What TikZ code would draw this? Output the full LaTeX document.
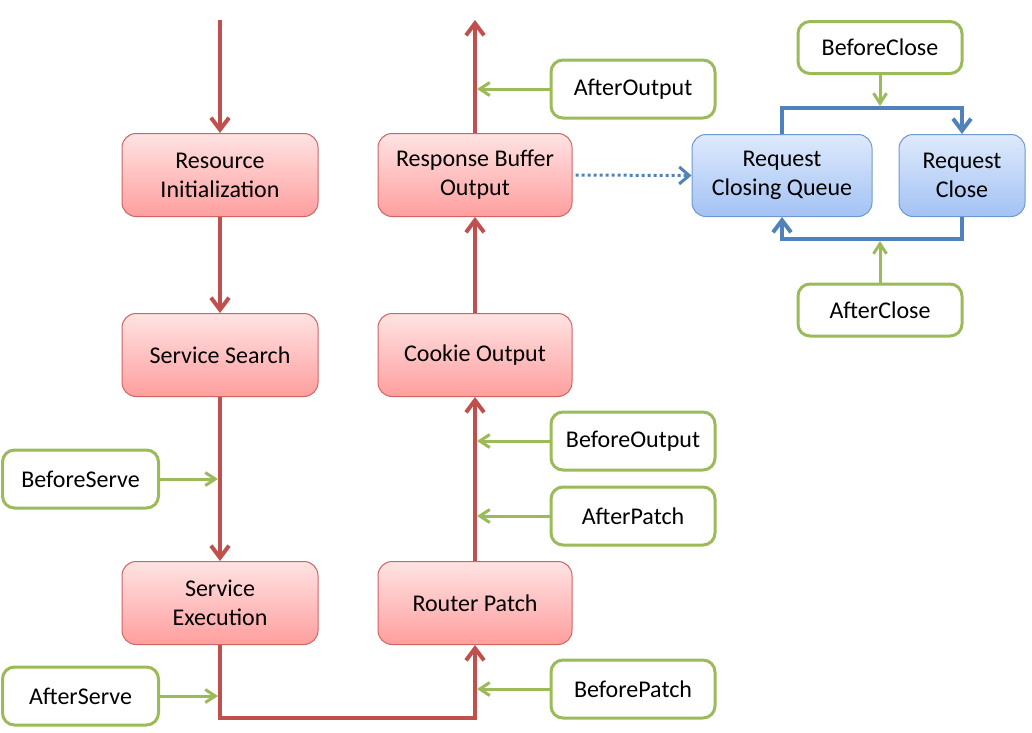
\documentclass[tikz,border=0pt]{standalone}
\usepackage{fontspec}
\setmainfont{Carlito}
\usetikzlibrary{arrows.meta}
\definecolor{redline}{HTML}{C0504D}
\definecolor{redtop}{HTML}{FFE3E3}
\definecolor{redbot}{HTML}{FF9E9E}
\definecolor{redborder}{HTML}{CF6462}
\definecolor{blueline}{HTML}{4F81BD}
\definecolor{bluetop}{HTML}{DEEAFC}
\definecolor{bluebot}{HTML}{A3C2F4}
\definecolor{blueborder}{HTML}{6E98CE}
\definecolor{greenline}{HTML}{9BBB59}
\begin{document}
\begin{tikzpicture}[x=1pt,y=-1pt,
  every node/.style={font=\fontsize{24}{29}\selectfont, align=center, inner sep=0pt, text=black},
  redbox/.style={draw=redborder, line width=1pt, rounded corners=14pt, top color=redtop, bottom color=redbot, minimum width=196pt, minimum height=83pt},
  bluebox/.style={draw=blueborder, line width=1pt, rounded corners=14pt, top color=bluetop, bottom color=bluebot, minimum height=82pt},
  greenbox/.style={draw=greenline, line width=3pt, rounded corners=12pt, fill=white, minimum width=164pt, minimum height=58pt},
  redarrow/.style={draw=redline, line width=4pt, -{Straight Barb[length=12pt,width=18pt]}},
  bluearrow/.style={draw=blueline, line width=4pt, -{Straight Barb[length=12pt,width=18pt]}},
  greenarrow/.style={draw=greenline, line width=3pt, shorten >=2pt, -{Straight Barb[length=10pt,width=13pt]}},
  dotarrow/.style={draw=blueline, line width=3pt, dash pattern=on 3pt off 3pt, shorten <=3pt, -{Straight Barb[length=10pt,width=17pt]}}
]
\useasboundingbox (0,0) rectangle (1032,732);

% red boxes
\node[redbox] (ri) at (220,175) {Resource\\Initialization};
\node[redbox] (ss) at (220,355) {Service Search};
\node[redbox] (se) at (220,603) {Service\\Execution};
\node[redbox, minimum width=194pt] (rb) at (475,175) {Response Buffer\\Output};
\node[redbox, minimum width=194pt] (co) at (475,355) {Cookie Output};
\node[redbox, minimum width=194pt] (rp) at (475,603) {Router Patch};

% blue boxes
\node[bluebox, minimum width=180pt] (rcq) at (782,175.5) {Request\\Closing Queue};
\node[bluebox, minimum width=126pt] (rc) at (962,175.5) {Request\\Close};

% green boxes
\node[greenbox] (ao) at (633,89) {AfterOutput};
\node[greenbox, minimum height=52pt] (bc) at (880,47.5) {BeforeClose};
\node[greenbox, minimum height=52pt] (ac) at (880,310) {AfterClose};
\node[greenbox, minimum width=156pt] (bs) at (80.5,479) {BeforeServe};
\node[greenbox] (bo) at (633,441) {BeforeOutput};
\node[greenbox] (ap) at (633,516) {AfterPatch};
\node[greenbox, minimum width=156pt] (as) at (80.5,696) {AfterServe};
\node[greenbox] (bp) at (633,689) {BeforePatch};

% coordinates
\coordinate (topL) at (220,20);
\coordinate (topR) at (475,20);
\coordinate (botL) at (220,718);
\coordinate (bt) at (880,108);
\coordinate (bb) at (880,239);

% red flow
\draw[redarrow] (topL) -- (ri.north);
\draw[redarrow] (ri.south) -- (ss.north);
\draw[redarrow] (ss.south) -- (se.north);
\draw[redarrow] (se.south) -- (botL) -| (rp.south);
\draw[redarrow] (rp.north) -- (co.south);
\draw[redarrow] (co.north) -- (rb.south);
\draw[redarrow] (rb.north) -- (topR);

% green hooks
\draw[greenarrow] (bs.east) -- (bs.east -| se.center);
\draw[greenarrow] (as.east) -- (as.east -| se.center);
\draw[greenarrow] (ao.west) -- (ao.west -| rb.center);
\draw[greenarrow] (bo.west) -- (bo.west -| co.center);
\draw[greenarrow] (ap.west) -- (ap.west -| co.center);
\draw[greenarrow] (bp.west) -- (bp.west -| rp.center);
\draw[greenarrow] (bc.south) -- (bt);
\draw[greenarrow] (ac.north) -- (bb);

% blue loop
\draw[bluearrow] (rcq.north) |- (bt) -| (rc.north);
\draw[bluearrow] (rc.south) |- (bb) -| (rcq.south);
\draw[dotarrow] (rb.east) -- (rcq.west);
\end{tikzpicture}
\end{document}
